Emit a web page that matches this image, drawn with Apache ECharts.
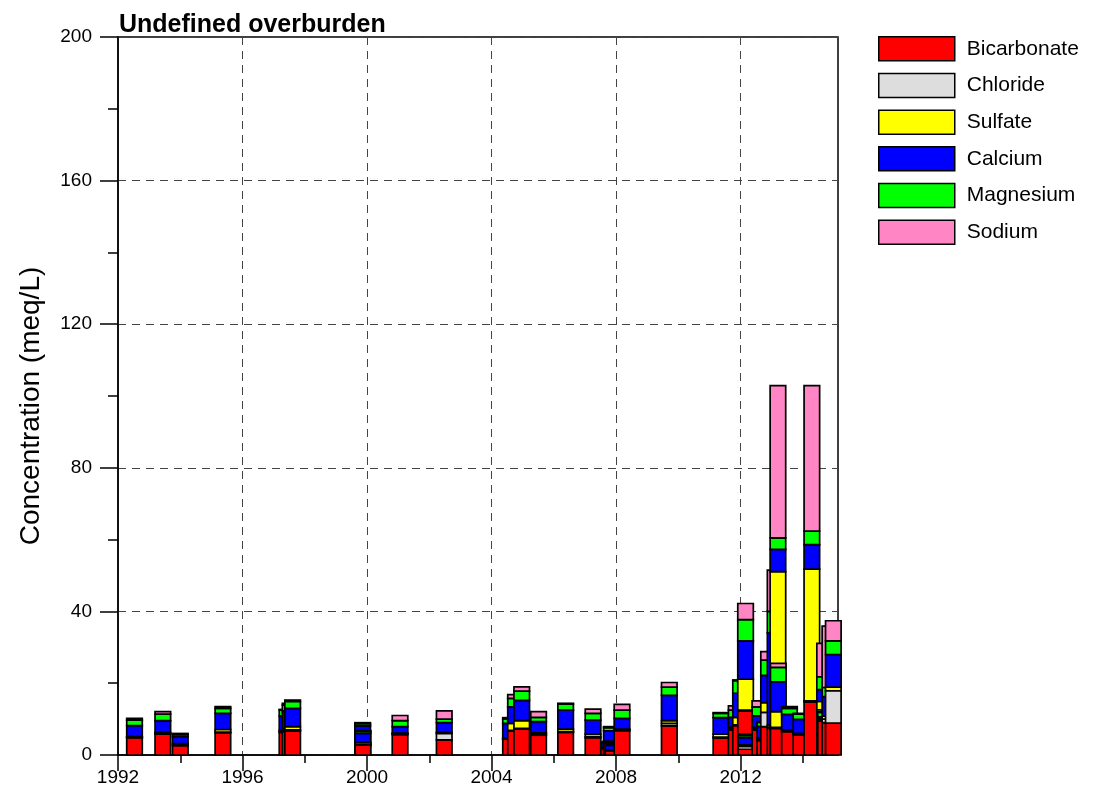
<!DOCTYPE html>
<html>
<head>
<meta charset="utf-8">
<title>Undefined overburden</title>
<script src="https://cdn.jsdelivr.net/npm/echarts@6/dist/echarts.min.js"></script>
<style>
  html, body { margin: 0; padding: 0; background: #fff; }
  #chart { width: 1093px; height: 797px; }
</style>
</head>
<body>
<div id="chart"></div>
<script>
// sample dates (decimal years), drawn in this order
const years = [
  1992.53, 1993.44, 1994.00, 1995.37, 1997.43, 1997.53, 1997.61, 1999.86, 1999.87, 2001.06,
  2002.48, 2004.61, 2004.77, 2004.97, 2005.51, 2006.38, 2007.26, 2007.76, 2007.85, 2007.90,
  2008.19, 2009.71, 2011.37, 2011.86, 2012.00, 2012.16, 2012.17, 2012.62, 2012.78, 2012.90,
  2013.11, 2013.20, 2013.21, 2013.57, 2013.94, 2014.29, 2014.70, 2014.73, 2014.87, 2014.98
]
// meq/L
const bicarbonate = [
  4.8, 5.8, 2.6, 6.2, 6.3, 6.5, 6.7, 2.5, 2.8, 5.7,
  4.2, 4.4, 6.7, 7.2, 5.5, 6.3, 4.8, 1.8, 3.4, 1.2,
  6.8, 8.1, 4.7, 7.0, 8.2, 12.3, 1.6, 7.0, 4.0, 7.9,
  7.5, 7.0, 7.4, 6.5, 5.6, 14.8, 12.0, 9.5, 9.0, 8.9
]
const chloride = [
  0.1, 0.2, 0.2, 0.2, 0.2, 0.2, 0.3, 0.2, 0.2, 0.2,
  1.8, 0.1, 0.2, 0.2, 0.3, 0.2, 0.3, 0.2, 0.2, 0.1,
  0.2, 0.7, 0.3, 0.2, 0.2, 0.2, 0.8, 0.3, 0.3, 4.0,
  0.3, 0.5, 0.3, 0.2, 0.2, 0.3, 0.6, 0.3, 1.0, 9.0
]
const sulfate = [
  0.2, 0.3, 0.4, 0.7, 0.4, 0.6, 0.9, 0.5, 0.5, 0.2,
  0.3, 0.2, 1.9, 2.2, 0.4, 0.7, 0.7, 0.2, 0.3, 0.1,
  0.2, 0.8, 0.8, 0.5, 2.1, 8.6, 0.4, 0.4, 0.4, 2.7,
  0.5, 43.6, 4.4, 0.3, 0.2, 36.7, 2.3, 0.3, 0.8, 1.0
]
const calcium = [
  3.1, 3.3, 1.9, 4.5, 4.0, 5.0, 5.1, 4.9, 2.5, 1.8,
  2.7, 4.1, 4.6, 5.6, 3.1, 5.3, 3.9, 1.0, 2.8, 1.3,
  3.0, 7.0, 4.6, 2.8, 6.7, 10.7, 2.0, 3.2, 3.3, 7.6,
  25.7, 6.2, 8.3, 4.3, 3.9, 6.8, 3.3, 0.5, 5.5, 9.1
]
const magnesium = [
  1.5, 1.8, 0.6, 1.4, 1.6, 1.6, 1.9, 0.6, 0.6, 1.7,
  1.0, 1.2, 2.4, 2.6, 1.2, 1.7, 1.9, 0.3, 0.9, 0.2,
  2.3, 2.3, 1.2, 2.0, 3.5, 5.9, 0.6, 2.5, 1.1, 4.2,
  6.0, 3.2, 4.0, 1.7, 1.5, 3.8, 3.6, 1.3, 2.5, 3.8
]
const sodium = [
  0.5, 0.7, 0.3, 0.5, 0.2, 0.5, 0.4, 0.3, 0.2, 1.4,
  2.3, 0.4, 1.0, 1.2, 1.6, 0.2, 1.2, 0.2, 0.3, 0.1,
  1.6, 1.3, 0.2, 1.2, 0.2, 4.5, 0.4, 1.7, 0.2, 2.4,
  11.5, 42.4, 1.1, 0.5, 0.2, 40.5, 9.3, 0.2, 17.1, 5.6
]
const ionNames = ['Bicarbonate', 'Chloride', 'Sulfate', 'Calcium', 'Magnesium', 'Sodium']
const ionColors = ['#ff0000', '#dddddd', '#ffff00', '#0000ff', '#00ff00', '#ff85c5']
const majorYears = [1992, 1996, 2000, 2004, 2008, 2012]
const minorYears = [1994, 1998, 2002, 2006, 2010, 2014]

const FONT = 'Liberation Sans, Arial, sans-serif'
const BAR_W = 0.5 // years

const ions = [bicarbonate, chloride, sulfate, calcium, magnesium, sodium]
const samples = years.map((y, i) => [y].concat(ions.map(arr => arr[i])))

const myChart = echarts.init(document.getElementById('chart'), null, { renderer: 'canvas' })

// one stacked column per sample, so later samples sit on top of earlier ones
const renderSample = (params, api) => {
  const x = api.value(0)
  const w = api.size([BAR_W, 0])[0]
  const children = []
  let base = 0
  for (let k = 0; k < 6; k++) {
    const v = api.value(k + 1)
    const p0 = api.coord([x, base])
    const p1 = api.coord([x, base + v])
    children.push({
      type: 'rect',
      shape: { x: p0[0] - w / 2, y: p1[1], width: w, height: p0[1] - p1[1] },
      style: { fill: ionColors[k], stroke: '#000', lineWidth: 1.7 }
    })
    base += v
  }
  return { type: 'group', children }
}

const option = {
  animation: false,
  title: {
    text: 'Undefined overburden',
    left: 114,
    top: 8,
    textStyle: { fontFamily: FONT, fontSize: 25, fontWeight: 'bold', color: '#000' }
  },
  legend: {
    orient: 'vertical',
    left: 873,
    top: 31,
    icon: 'rect',
    itemWidth: 76,
    itemHeight: 24,
    itemGap: 11.2,
    selectedMode: false,
    data: ionNames,
    itemStyle: { borderColor: '#000', borderWidth: 1.5 },
    textStyle: { fontFamily: FONT, fontSize: 21, color: '#000', padding: [0, 0, 0, 7], lineHeight: 24 }
  },
  grid: {
    left: 118,
    top: 37,
    right: 255,
    bottom: 42,
    show: true,
    borderColor: '#000',
    borderWidth: 1.5,
    backgroundColor: 'transparent'
  },
  xAxis: [
    {
      type: 'value',
      position: 'bottom',
      min: 1992,
      max: 2015.13,
      interval: 4,
      axisLine: { show: true, lineStyle: { color: '#000', width: 1.5 } },
      axisTick: { show: true, inside: false, length: 16, customValues: majorYears, lineStyle: { color: '#000', width: 1.5 } },
      axisLabel: {
        customValues: majorYears,
        formatter: v => String(v),
        margin: 13,
        color: '#000',
        fontFamily: FONT,
        fontSize: 19
      },
      splitLine: { show: true, lineStyle: { color: '#444', type: [8, 6], width: 1 } }
    },
    {
      // minor ticks every 2 years
      type: 'value',
      position: 'bottom',
      min: 1992,
      max: 2015.13,
      interval: 2,
      axisLine: { show: false },
      axisTick: { show: true, inside: false, length: 8, customValues: minorYears, lineStyle: { color: '#000', width: 1.5 } },
      axisLabel: { show: false },
      splitLine: { show: false }
    }
  ],
  yAxis: {
    type: 'value',
    min: 0,
    max: 200,
    interval: 40,
    name: 'Concentration (meq/L)',
    nameLocation: 'middle',
    nameGap: 73,
    nameTextStyle: { fontFamily: FONT, fontSize: 28, color: '#000', padding: [0, 20, 0, 0] },
    axisLine: { show: true, lineStyle: { color: '#000', width: 1.5 } },
    axisTick: { show: true, inside: false, length: 18, lineStyle: { color: '#000', width: 1.5 } },
    minorTick: { show: true, splitNumber: 2, length: 10, lineStyle: { color: '#000', width: 1.5 } },
    axisLabel: { margin: 26, color: '#000', fontFamily: FONT, fontSize: 19 },
    splitLine: { show: true, lineStyle: { color: '#444', type: [8, 6], width: 1 } }
  },
  series: ionNames.map((name, k) => ({
    name: name,
    type: 'bar',
    data: [],
    itemStyle: { color: ionColors[k], borderColor: '#000', borderWidth: 1.5 }
  })).concat([
    {
      name: 'samples',
      type: 'custom',
      renderItem: renderSample,
      dimensions: ['year'].concat(ionNames),
      encode: { x: 0, y: [1, 2, 3, 4, 5, 6] },
      data: samples,
      z: 5
    }
  ])
}

option && myChart.setOption(option)
</script>
</body>
</html>
